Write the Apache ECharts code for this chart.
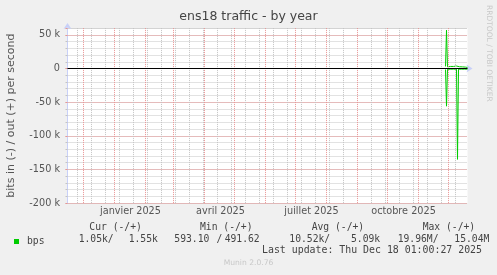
<!DOCTYPE html>
<html><head><meta charset="utf-8">
<script src="https://cdn.jsdelivr.net/npm/echarts@6/dist/echarts.min.js"></script>
<style>html,body{margin:0;padding:0;background:#F0F0F0;overflow:hidden}#c{width:497px;height:275px}</style>
</head><body><div id="c"></div>
<script>
// ---- data ----
const startDate = [2024, 10, 15];      // first day shown (UTC, month 0-based)
const dayCount = 401;                   // days on the x axis
const dataStartIndex = 378;             // first day with data
const outValues = [3000, 57000, 2500, 4500, 3500, 3000, 3200, 3800, 3000, 2800, 3300, 3600,
                   3000, 2800, 2600, 2700, 2500, 2400, 2300, 2200, 2000, 1800, 1550];
const inValues  = [-1500, -56000, -1200, -1000, -900, -1000, -1100, -1000, -900, -1000, -1000, -1100,
                   -135000, -1000, -1000, -900, -1000, -1100, -1000, -1000, -1000, -1000, -1050];
const monthNames = ['janvier','février','mars','avril','mai','juin','juillet','août','septembre','octobre','novembre','décembre'];
const labelMonths = [1, 4, 7, 10];
const yMin = -200000, yMax = 60000;
const legendHeaders = ['Cur (-/+)', 'Min (-/+)', 'Avg (-/+)', 'Max (-/+)'];
const legendValues = ['1.05k/', '1.55k', '593.10', '/', '491.62', '10.52k/', '5.09k', '19.96M/', '15.04M'];
const lastUpdate = 'Last update: Thu Dec 18 01:00:27 2025';

// ---- build ----
const t0 = Date.UTC(startDate[0], startDate[1], startDate[2]);
const days = [];
for (let i = 0; i < dayCount; i++) days.push(new Date(t0 + i * 86400000).toISOString().slice(0, 10));
const pad = (vals) => days.map((d, i) => (i >= dataStartIndex && i - dataStartIndex < vals.length) ? vals[i - dataStartIndex] : null);
const outData = pad(outValues), inData = pad(inValues);

const axisBlue = '#C8D0F8';
const red = '#E99494', gray = '#C4C4C4';
const isLabel = (i, v) => v.slice(8) === '17' && labelMonths.includes(+v.slice(5, 7));
const monthStarts = days.filter(v => v.slice(8) === '01');
const minorDays = days.filter((v, i) => i >= 10 && (i - 10) % 14 === 0 && v.slice(8) !== '01');
const gridLines = [
  ...minorDays.map(v => ({xAxis: v, lineStyle: {color: gray, type: [1, 1], width: 1}})),
  ...monthStarts.map(v => ({xAxis: v, lineStyle: {color: red, type: [1, 1], width: 1}}))
];

const chart = echarts.init(document.getElementById('c'), null, {renderer: 'canvas'});
const mono = 'DejaVu Sans Mono';
const legendPos = [89.3, 200, 311.7, 422.7];
const valuePos = [78.7, 128.7, 174.3, 216.5, 224.7, 289.3, 351, 397.7, 454.3];
const graphics = [];
legendHeaders.forEach((t, k) => graphics.push({type: 'text', left: legendPos[k], top: 222.5,
  style: {text: t, font: '9.7px ' + mono, fill: '#444'}}));
legendValues.forEach((t, k) => graphics.push({type: 'text', left: valuePos[k], top: 234,
  style: {text: t, font: '9.7px ' + mono, fill: '#444'}}));
graphics.push({type: 'text', right: 15, top: 245.8, style: {text: lastUpdate, font: '9.9px ' + mono, fill: '#444'}});
graphics.push({type: 'text', left: 'center', top: 259.5, style: {text: 'Munin 2.0.76', font: '7.6px DejaVu Sans', fill: '#C8C8C8'}});
graphics.push({type: 'text', x: 492.5, y: 5, rotation: -Math.PI / 2,
  style: {text: 'RRDTOOL / TOBI OETIKER', font: '7.5px DejaVu Sans', fill: '#C8C8C8'}});

chart.setOption({
  animation: false,
  backgroundColor: '#F0F0F0',
  title: {text: 'ens18 traffic - by year', left: 'center', top: 10, padding: 0,
    textStyle: {fontFamily: 'DejaVu Sans', fontSize: 12.5, fontWeight: 'normal', color: '#444'}},
  legend: {data: ['bps'], left: 14, top: 236.5, padding: 0, itemWidth: 5, itemHeight: 5, icon: 'rect',
    itemStyle: {color: '#00CC00'},
    textStyle: {fontFamily: mono, fontSize: 9.7, color: '#444', padding: [0, 0, 0, 3]}},
  grid: {left: 67.5, right: 29.5, top: 28.1, bottom: 71.9, show: true, backgroundColor: '#FFFFFF', borderWidth: 0,
    containLabel: false, outerBoundsMode: 'none'},
  xAxis: [
    {type: 'category', data: days, boundaryGap: false, position: 'bottom',
      axisLine: {show: true, lineStyle: {color: axisBlue}, symbol: ['none', 'arrow'], symbolSize: [6, 6], symbolOffset: [0, 5]},
      axisTick: {show: false},
      axisLabel: {interval: isLabel, margin: 3.5, fontFamily: 'DejaVu Sans', fontSize: 9.7, color: '#555',
        formatter: v => monthNames[+v.slice(5, 7) - 1] + ' ' + v.slice(0, 4)},
      splitLine: {show: false}}
  ],
  yAxis: [
    {type: 'value', min: yMin, max: yMax, interval: 10000, position: 'left',
      axisLine: {show: false}, axisLabel: {show: false},
      axisTick: {show: true, length: 2, lineStyle: {color: gray}},
      splitLine: {show: true, lineStyle: {color: gray, type: [1, 1]}}},
    {type: 'value', min: yMin, max: yMax, interval: 50000, position: 'left', offset: 0,
      name: 'bits in (-) / out (+) per second', nameLocation: 'middle', nameGap: 51, nameRotate: 90,
      nameTextStyle: {fontFamily: 'DejaVu Sans', fontSize: 11, color: '#555'},
      axisLine: {show: true, lineStyle: {color: axisBlue}, symbol: ['none', 'arrow'], symbolSize: [6, 6], symbolOffset: [0, 5]},
      axisTick: {show: true, length: 2, lineStyle: {color: red}},
      axisLabel: {margin: 7.5, fontFamily: 'DejaVu Sans', fontSize: 9.7, color: '#555',
        formatter: v => v === yMax ? '' : (v === 0 ? '0' : (v / 1000) + ' k')},
      splitLine: {show: true, lineStyle: {color: [red, red, red, red, red, red, gray], type: [1, 1]}}}
  ],
  series: [
    {name: 'grid', type: 'line', xAxisIndex: 0, yAxisIndex: 1, data: [], z: 1, silent: true,
      markLine: {silent: true, symbol: 'none', label: {show: false}, animation: false, data: gridLines}},
    {name: 'bps', type: 'line', xAxisIndex: 0, yAxisIndex: 1, data: inData, showSymbol: false, z: 3,
      connectNulls: false, lineStyle: {color: '#00CC00', width: 1}, itemStyle: {color: '#00CC00'}},
    {name: 'bps', type: 'line', xAxisIndex: 0, yAxisIndex: 1, data: outData, showSymbol: false, z: 3,
      connectNulls: false, lineStyle: {color: '#00CC00', width: 1}, itemStyle: {color: '#00CC00'},
      markLine: {silent: true, symbol: 'none', label: {show: false}, lineStyle: {color: '#000', width: 1, type: 'solid'},
        data: [{yAxis: 0}]}}
  ],
  graphic: graphics
});
</script></body></html>
